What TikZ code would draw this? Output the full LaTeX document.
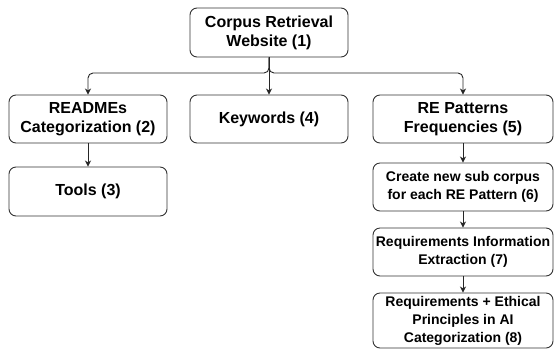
\documentclass[tikz,border=0pt]{standalone}
\usepackage{fontspec}
\setmainfont{Liberation Sans}
\usetikzlibrary{arrows.meta}
\begin{document}
\begin{tikzpicture}[x=1pt,y=-1pt,
  box/.style={draw=black!80, line width=0.9pt, rounded corners=7pt, align=center,
    inner sep=0pt, font=\fontsize{16}{19.2}\selectfont\bfseries},
  narrow/.style={box, minimum width=158pt},
  wide/.style={box, minimum width=180pt, font=\fontsize{14}{18}\selectfont\bfseries},
  link/.style={draw=black!85, line width=0.9pt, -{Stealth[length=6pt,width=6pt,inset=1.8pt]}},
  elbowlink/.style={link, rounded corners=5pt}]
  \useasboundingbox (0,0) rectangle (554,349);
  \fill[white] (0,0) rectangle (554,349);

  \node[narrow, minimum height=49pt] (n1) at (269,32.5) {Corpus Retrieval\\Website (1)};
  \node[narrow, minimum height=48pt] (n2) at (88,119) {READMEs\\Categorization (2)};
  \node[narrow, minimum height=48pt] (n4) at (269,119) {Keywords (4)};
  \node[wide, minimum height=48pt, font=\fontsize{16}{19.2}\selectfont\bfseries] (n5) at (463,119) {RE Patterns\\Frequencies (5)};
  \node[narrow, minimum height=49pt] (n3) at (88,191.5) {Tools (3)};
  \node[wide, minimum height=48pt] (n6) at (463,187) {Create new sub corpus\\for each RE Pattern (6)};
  \node[wide, minimum height=48pt] (n7) at (463,252) {Requirements Information\\Extraction (7)};
  \node[wide, minimum height=55pt] (n8) at (463,320.5) {Requirements + Ethical\\Principles in AI\\Categorization (8)};

  \coordinate (split) at (n1.south |- 0,73);

  \draw[link] (n1) -- (n4);
  \draw[elbowlink] (n1.south) -- (split) -| (n2.north);
  \draw[elbowlink] (n1.south) -- (split) -| (n5.north);
  \draw[link] (n2) -- (n3);
  \draw[link] (n5) -- (n6);
  \draw[link] (n6) -- (n7);
  \draw[link] (n7) -- (n8);
\end{tikzpicture}
\end{document}
